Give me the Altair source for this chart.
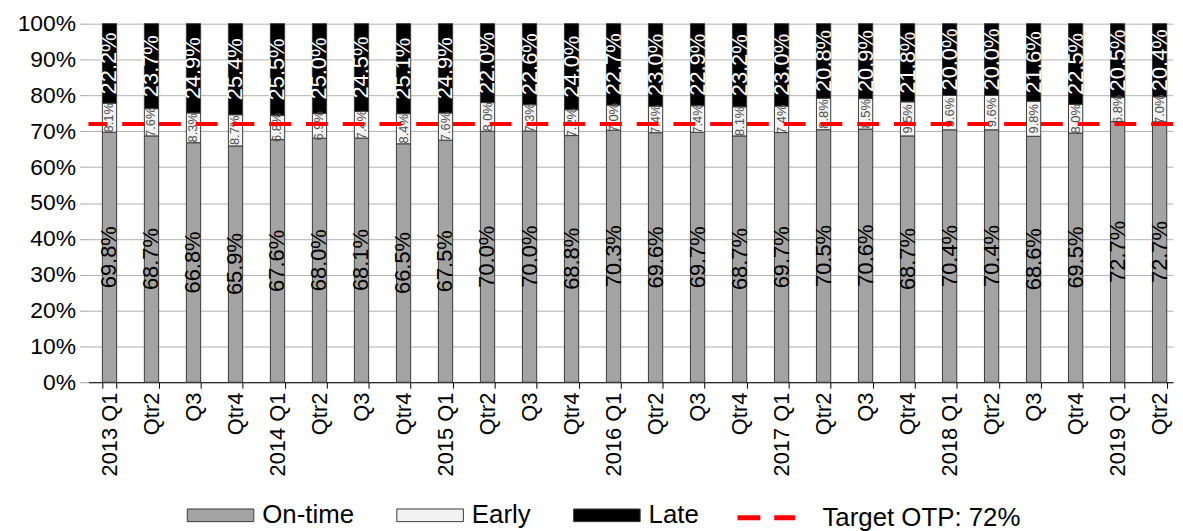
import altair as alt
import pandas as pd

periods = ["2013 Q1", "Qtr2", "Q3", "Qtr4", "2014 Q1", "Qtr2", "Q3", "Qtr4",
           "2015 Q1", "Qtr2", "Q3", "Qtr4", "2016 Q1", "Qtr2", "Q3", "Qtr4",
           "2017 Q1", "Qtr2", "Q3", "Qtr4", "2018 Q1", "Qtr2", "Q3", "Qtr4",
           "2019 Q1", "Qtr2"]
on_time = [69.8, 68.7, 66.8, 65.9, 67.6, 68.0, 68.1, 66.5, 67.5, 70.0, 70.0, 68.8, 70.3,
           69.6, 69.7, 68.7, 69.7, 70.5, 70.6, 68.7, 70.4, 70.4, 68.6, 69.5, 72.7, 72.7]
early = [8.1, 7.6, 8.3, 8.7, 6.8, 6.9, 7.4, 8.4, 7.6, 8.0, 7.3, 7.2, 7.0,
         7.4, 7.4, 8.1, 7.4, 8.8, 8.5, 9.5, 9.6, 9.6, 9.8, 8.0, 6.8, 7.0]
late = [22.2, 23.7, 24.9, 25.4, 25.5, 25.0, 24.5, 25.1, 24.9, 22.0, 22.6, 24.0, 22.7,
        23.0, 22.9, 23.2, 23.0, 20.8, 20.9, 21.8, 20.0, 20.0, 21.6, 22.5, 20.5, 20.4]
y_ticks = [0.0, 0.1, 0.2, 0.3, 0.4, 0.5, 0.6, 0.7, 0.8, 0.9, 1.0]
series_names = ["On-time", "Early", "Late"]
series_colors = ["#a3a3a3", "#f2f2f2", "#000000"]
target_value = 0.72
target_name = "Target OTP: 72%"

rows = []
for i, p in enumerate(periods):
    for k, (name, vals) in enumerate(zip(series_names, [on_time, early, late])):
        rows.append({"idx": i, "series": name, "order": k, "value": vals[i],
                     "label": f"{vals[i]:.1f}%"})
df = pd.DataFrame(rows)

FONT = "Liberation Sans"
label_expr = "[" + ",".join(f"'{p}'" for p in periods) + "][datum.value]"

x_scale = alt.Scale(paddingInner=0.66, paddingOuter=0.24, align=0.69)
x_axis = alt.Axis(title=None, labelExpr=label_expr, labelAngle=-90, labelFontSize=22,
                  labelFont=FONT, labelColor="#000000", tickBand="extent",
                  domainColor="#000000", tickColor="#000000", tickSize=6,
                  labelPadding=4, grid=False, labelOverlap=False)
y_scale = alt.Scale(domain=[0, 1])
y_axis = alt.Axis(title=None, format=".0%", values=y_ticks, tickCount=11,
                  labelFontSize=23, labelFont=FONT, labelColor="#000000",
                  labelOverlap=False, domain=False, tickColor="#a6a6a6",
                  tickSize=9, gridColor="#b0b0b0", labelPadding=4)

base = alt.Chart(df).transform_stack(
    stack="value", groupby=["idx"], sort=[alt.SortField("order")],
    as_=["y0", "y1"], offset="normalize",
).transform_calculate(mid="(datum.y0 + datum.y1) / 2")

bars = base.mark_bar(stroke="#3a3a3a", strokeWidth=1).encode(
    x=alt.X("idx:O", scale=x_scale, axis=x_axis),
    y=alt.Y("y0:Q", scale=y_scale, axis=y_axis),
    y2="y1:Q",
    fill=alt.Fill("series:N",
                  scale=alt.Scale(domain=series_names, range=series_colors),
                  legend=alt.Legend(title=None, orient="none", legendX=99, legendY=461,
                                    direction="horizontal", columns=3,
                                    symbolType="M-1,-0.19H1V0.19H-1Z", symbolSize=4489,
                                    symbolStrokeColor="#3a3a3a", symbolStrokeWidth=1,
                                    labelFontSize=26, labelFont=FONT, labelColor="#000000",
                                    labelOffset=8, columnPadding=40, labelLimit=0)),
)

def seg_text(name, size, color):
    return base.transform_filter(f"datum.series == '{name}'").mark_text(
        angle=270, fontSize=size, font=FONT, color=color, align="center", baseline="middle"
    ).encode(x=alt.X("idx:O", scale=x_scale, axis=x_axis),
             y=alt.Y("mid:Q", scale=y_scale, axis=y_axis), text="label:N")

txt_on = seg_text("On-time", 22, "#000000")
txt_early = seg_text("Early", 13, "#505050")
txt_late = seg_text("Late", 22, "#ffffff")

target_df = pd.DataFrame({"name": [target_name], "target": [target_value]})
rule = alt.Chart(target_df).mark_rule(strokeWidth=4, strokeDash=[22, 15]).encode(
    y=alt.Y("target:Q", scale=y_scale, axis=y_axis),
    stroke=alt.Stroke("name:N", scale=alt.Scale(domain=[target_name], range=["#ff0000"]),
                      legend=alt.Legend(title=None, orient="none", legendX=651, legendY=466,
                                        symbolType="stroke", symbolSize=3364,
                                        symbolStrokeWidth=5, symbolDash=[23, 14],
                                        labelFontSize=26, labelFont=FONT,
                                        labelColor="#000000", labelOffset=25,
                                        labelLimit=0)),
)

chart = alt.layer(bars, txt_on, txt_early, txt_late, rule).properties(
    width=1092, height=361,
    autosize=alt.AutoSizeParams(type="none"),
    padding={"left": 81, "top": 14, "right": 2, "bottom": 148},
).configure_view(stroke=None)

chart.save("out.html", embed_options={"renderer": "svg", "actions": False})
